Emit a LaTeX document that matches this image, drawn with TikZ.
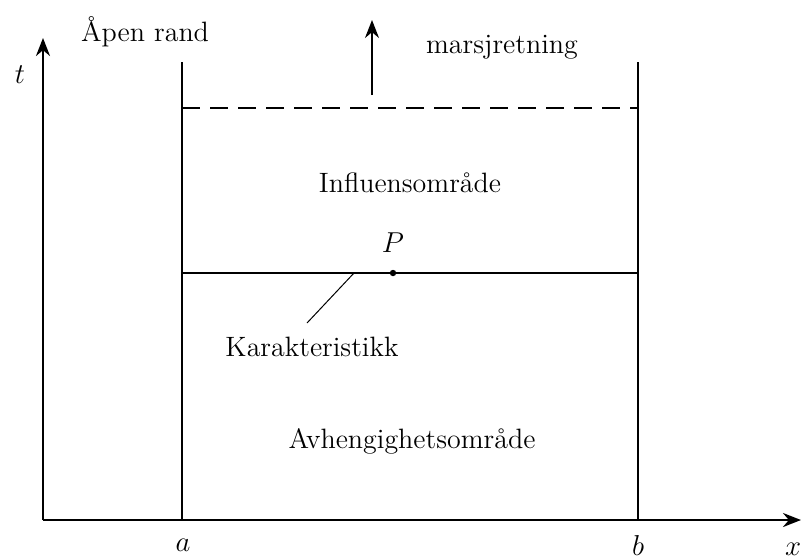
\documentclass[tikz,border=0pt]{standalone}
\usetikzlibrary{arrows.meta}
\begin{document}
\begin{tikzpicture}[x=0.5pt,y=-0.5pt,
  axis/.style={line width=1.3pt,-{Stealth[length=9pt,width=7pt]}},
  bound/.style={line width=0.8pt},
  lbl/.style={inner sep=0pt,font=\fontsize{14}{16}\selectfont},
  mlbl/.style={inner sep=0pt,font=\fontsize{15}{17}\selectfont}]
\useasboundingbox (0,0) rectangle (801,559);
\coordinate (O) at (43,520);
\coordinate (tEnd) at (43,38);
\coordinate (xEnd) at (801,520);
\coordinate (aBot) at (182,520);
\coordinate (aTop) at (182,62);
\coordinate (bBot) at (638,520);
\coordinate (bTop) at (638,62);
\coordinate (dL) at (182,108);
\coordinate (dR) at (638,108);
\coordinate (hL) at (182,273);
\coordinate (hR) at (638,273);
\coordinate (kA) at (354,273);
\coordinate (kB) at (307,323);
\coordinate (mA) at (372,95);
\coordinate (mB) at (372,20);
\draw[axis] (O) -- (tEnd);
\draw[axis] (O) -- (xEnd);
\draw[bound] (aBot) -- (aTop);
\draw[bound] (bBot) -- (bTop);
\draw[bound,dash pattern=on 9pt off 5pt] (dL) -- (dR);
\draw[bound] (hL) -- (hR);
\draw[line width=0.5pt] (kA) -- (kB);
\draw[line width=0.9pt,-{Stealth[length=9pt,width=7pt]}] (mA) -- (mB);
\fill (393,273) circle (1.6pt) node[mlbl,above=10pt] (P) {$P$};
\node[mlbl] (t) at (20,75) {$t$};
\node[mlbl] (a) at (183,545) {$a$};
\node[mlbl] (b) at (638,545) {$b$};
\node[mlbl] (x) at (793,549) {$x$};
\node[lbl] (apen) at (145,32) {Åpen rand};
\node[lbl] (mars) at (502,47) {marsjretning};
\node[lbl] (infl) at (410,183) {Influensområde};
\node[lbl] (kar) at (312,347) {Karakteristikk};
\node[lbl] (avh) at (412,441) {Avhengighetsområde};
\end{tikzpicture}
\end{document}
